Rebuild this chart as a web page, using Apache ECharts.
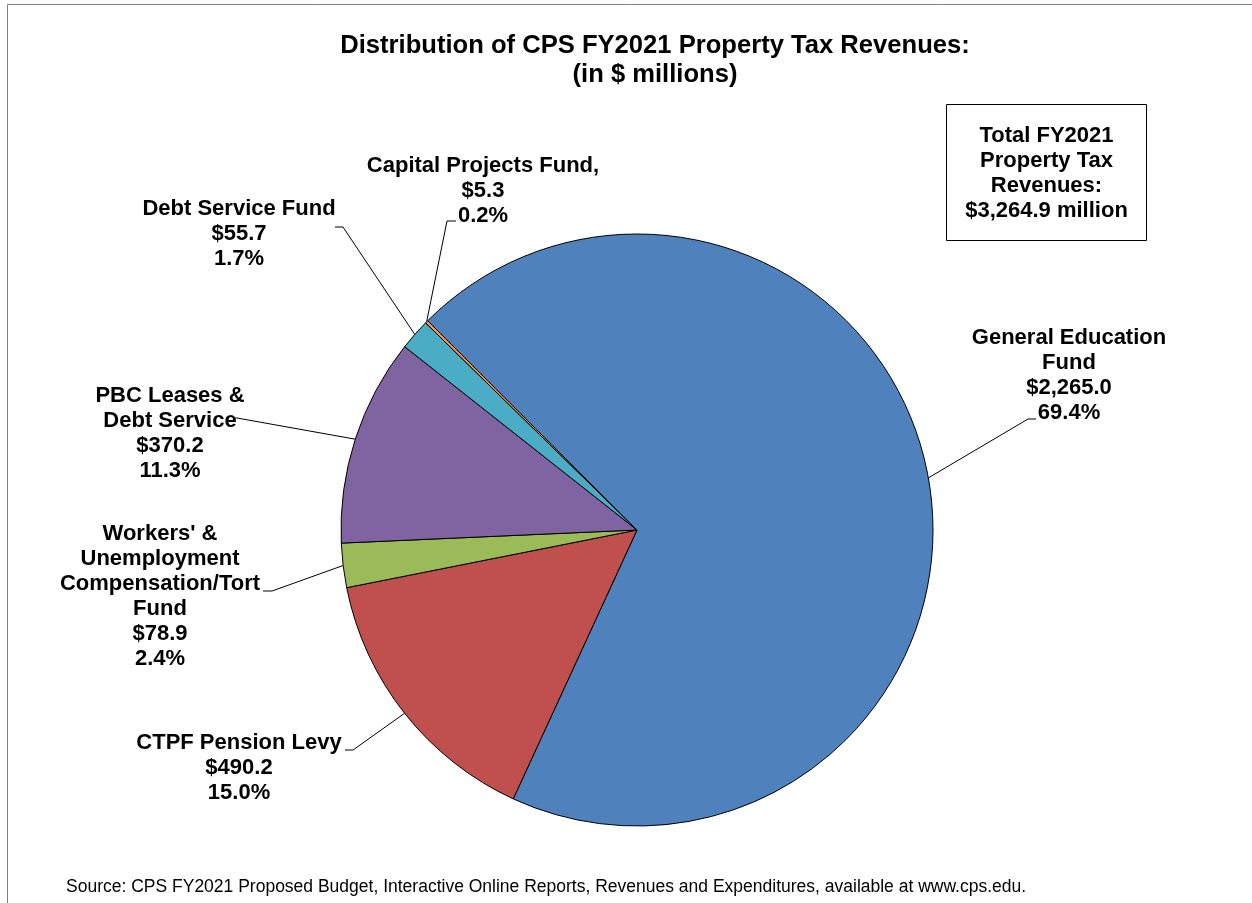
<!DOCTYPE html>
<html>
<head>
<meta charset="utf-8">
<script src="https://cdn.jsdelivr.net/npm/echarts@6/dist/echarts.min.js"></script>
<style>
  html, body { margin: 0; padding: 0; background: #fff; }
  #pie { width: 1252px; height: 903px; }
</style>
</head>
<body>
<div id="pie"></div>
<script>
// fund names (line breaks as in the printed labels) and revenue in $ millions
const funds = [
  'General Education\nFund',
  'CTPF Pension Levy',
  "Workers' &\nUnemployment\nCompensation/Tort\nFund",
  'PBC Leases &\nDebt Service',
  'Debt Service Fund',
  'Capital Projects Fund,'
];
const revenues = [2265.0, 490.2, 78.9, 370.2, 55.7, 5.3];
const totalRevenue = 3264.9;

const sliceColors = ['#4F81BD', '#C0504D', '#9BBB59', '#8064A2', '#4BACC6', '#F79646'];

// where each label sits, and the elbow/end of its leader line
const labelSpots = [
  { x: 1069, y: 375, elbow: [1028, 419], end: [1036, 419] },
  { x: 239, y: 768, elbow: [353, 750], end: [345, 750] },
  { x: 160, y: 596, elbow: [272, 591], end: [263, 591] },
  { x: 170, y: 433, elbow: [237, 418], end: [235, 418] },
  { x: 239, y: 234, elbow: [343, 227], end: [335, 227] },
  { x: 483, y: 191, elbow: [447, 221], end: [456, 221] }
];

const FONT = '"Liberation Sans", Arial, sans-serif';

dom = echarts.init(document.getElementById('pie'));

option = {
  animation: false,
  graphic: [
    {
      type: 'rect',
      shape: { x: 7.5, y: 4.5, width: 1300, height: 1000 },
      style: { fill: 'none', stroke: '#808080', lineWidth: 1 }
    },
    {
      type: 'text',
      x: 655, y: 31,
      style: {
        text: 'Distribution of CPS FY2021 Property Tax Revenues:\n(in $ millions)',
        font: 'bold 25.6px ' + FONT,
        lineHeight: 29,
        align: 'center',
        verticalAlign: 'top',
        fill: '#000'
      }
    },
    {
      type: 'rect',
      shape: { x: 946.5, y: 104.5, width: 200, height: 136 },
      style: { fill: '#fff', stroke: '#000', lineWidth: 1 }
    },
    {
      type: 'text',
      x: 1046.5, y: 173,
      style: {
        text: 'Total FY2021\nProperty Tax\nRevenues:\n$' + echarts.format.addCommas(totalRevenue.toFixed(1)) + ' million',
        font: 'bold 22px ' + FONT,
        lineHeight: 25,
        align: 'center',
        verticalAlign: 'middle',
        fill: '#000'
      }
    },
    {
      type: 'text',
      x: 66, y: 887,
      style: {
        text: 'Source: CPS FY2021 Proposed Budget, Interactive Online Reports, Revenues and Expenditures, available at www.cps.edu.',
        font: '17.5px ' + FONT,
        align: 'left',
        verticalAlign: 'middle',
        fill: '#000'
      }
    }
  ],
  series: [{
    type: 'pie',
    center: [637, 530],
    radius: 296,
    startAngle: 135,
    clockwise: true,
    avoidLabelOverlap: false,
    percentPrecision: 1,
    emphasis: { disabled: true },
    itemStyle: { borderColor: '#000', borderWidth: 1 },
    label: {
      show: true,
      position: 'outside',
      color: '#000',
      fontFamily: FONT,
      fontWeight: 'bold',
      fontSize: 22,
      lineHeight: 25,
      formatter: function (p) {
        return p.name + '\n$' + echarts.format.addCommas(p.value.toFixed(1)) + '\n' + p.percent.toFixed(1) + '%';
      }
    },
    labelLine: {
      show: true,
      smooth: false,
      lineStyle: { color: '#000', width: 1 }
    },
    labelLayout: function (params) {
      const spot = labelSpots[params.dataIndex];
      const anchor = params.labelLinePoints ? params.labelLinePoints[0] : spot.elbow;
      return {
        x: spot.x,
        y: spot.y,
        align: 'center',
        verticalAlign: 'middle',
        labelLinePoints: [anchor, spot.elbow, spot.end]
      };
    },
    data: funds.map(function (name, i) {
      return { name: name, value: revenues[i], itemStyle: { color: sliceColors[i] } };
    })
  }]
};

dom.setOption(option);
</script>
</body>
</html>
